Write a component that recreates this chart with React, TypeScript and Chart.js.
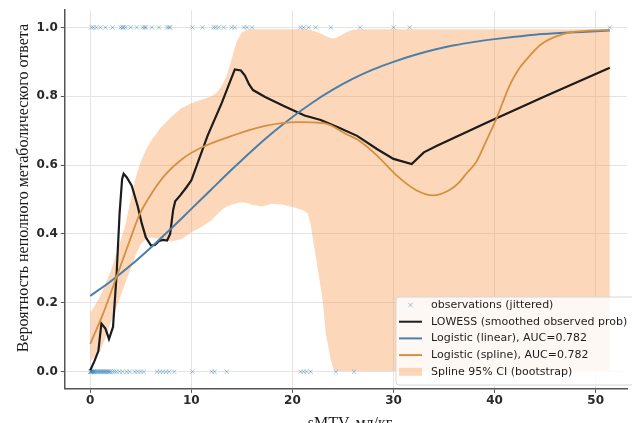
import React, { useEffect, useRef } from "react";
import { Chart, registerables } from "chart.js";

Chart.register(...registerables);

// ---- data ----
const OBS_POS_X = [0.1, 0.3, 0.6, 1.0, 1.5, 2.2, 3.0, 3.2, 3.3, 3.5, 4.0, 4.6, 5.2, 5.4, 5.5, 6.1, 6.8, 7.6, 7.8, 7.9, 10.1, 11.1, 12.2, 12.4, 12.7, 13.2, 14.0, 14.3, 15.2, 15.5, 16.0, 20.8, 21.1, 21.6, 22.3, 23.8, 26.7, 30.0, 31.6, 51.4];
const OBS_NEG_X = [0, 0.05, 0.1, 0.15, 0.2, 0.3, 0.35, 0.4, 0.5, 0.6, 0.7, 0.8, 0.9, 1.0, 1.1, 1.2, 1.3, 1.4, 1.5, 1.6, 1.7, 1.8, 1.9, 2.0, 2.2, 2.4, 2.6, 2.9, 3.2, 3.6, 3.9, 4.4, 4.7, 5.0, 5.3, 6.6, 6.9, 7.2, 7.5, 7.8, 8.3, 10.1, 12.0, 12.3, 13.5, 20.8, 21.1, 21.4, 21.8, 24.3, 26.1];

const LOWESS_X = [0, 0.4, 0.8, 1.1, 1.5, 1.85, 2.25, 2.6, 2.9, 3.15, 3.3, 3.6, 4.1, 4.7, 5.1, 5.5, 6.0, 6.4, 6.8, 7.2, 7.6, 7.9, 8.2, 8.4, 8.9, 9.5, 10.0, 10.7, 11.6, 13.0, 14.3, 14.9, 15.3, 15.7, 16.1, 17.3, 19.2, 21.2, 22.8, 24.5, 26.4, 28.4, 30.0, 31.8, 33.0, 34.3, 39.2, 45.0, 51.4];
const LOWESS_Y = [0.004, 0.03, 0.06, 0.14, 0.125, 0.095, 0.13, 0.28, 0.46, 0.56, 0.575, 0.565, 0.54, 0.48, 0.43, 0.39, 0.367, 0.368, 0.38, 0.383, 0.381, 0.4, 0.47, 0.495, 0.512, 0.535, 0.556, 0.612, 0.685, 0.78, 0.878, 0.875, 0.86, 0.835, 0.818, 0.798, 0.771, 0.744, 0.731, 0.71, 0.685, 0.646, 0.618, 0.603, 0.637, 0.656, 0.723, 0.8, 0.883];

const LIN_X = [0, 2, 4, 6, 8, 10, 12, 14, 16, 18, 20, 22, 24, 26, 28, 30, 32, 34, 36, 38, 40, 42, 44, 46, 48, 50, 51.4];
const LIN_Y = [0.22, 0.262, 0.309, 0.361, 0.416, 0.473, 0.53, 0.587, 0.642, 0.693, 0.74, 0.782, 0.819, 0.851, 0.878, 0.9, 0.919, 0.935, 0.948, 0.958, 0.966, 0.973, 0.979, 0.983, 0.986, 0.989, 0.991];

const SPL_X = [0, 1.25, 2.57, 3.87, 4.85, 6.16, 7.47, 9.1, 11.0, 14.0, 17.3, 20.5, 23.2, 25.4, 26.4, 28.4, 30.3, 32.25, 33.9, 35.5, 36.5, 37.2, 38.2, 39.2, 40.15, 41.45, 42.3, 43.1, 44.7, 46.7, 49.0, 51.4];
const SPL_Y = [0.081, 0.167, 0.273, 0.378, 0.455, 0.522, 0.574, 0.618, 0.651, 0.685, 0.714, 0.725, 0.721, 0.689, 0.675, 0.627, 0.57, 0.527, 0.512, 0.527, 0.55, 0.575, 0.61, 0.672, 0.733, 0.829, 0.875, 0.905, 0.953, 0.98, 0.99, 0.993];

const CI_X = [0, 1, 2, 3, 3.5, 4, 4.5, 5, 5.5, 6, 7, 8, 9, 10, 11, 12, 12.5, 13, 13.5, 14, 14.5, 15, 15.5, 16, 17, 18, 19, 20, 21, 21.5, 21.8, 22, 22.5, 23, 23.3, 23.5, 23.8, 24.1, 24.5, 25, 25.5, 26, 27, 30, 35, 40, 45, 50, 51.4];
const CI_HI = [0.17, 0.22, 0.29, 0.38, 0.43, 0.5, 0.565, 0.61, 0.645, 0.67, 0.71, 0.74, 0.765, 0.78, 0.79, 0.8, 0.81, 0.83, 0.86, 0.91, 0.96, 0.985, 0.993, 0.995, 0.995, 0.995, 0.995, 0.995, 0.995, 0.995, 0.993, 0.99, 0.985, 0.98, 0.975, 0.972, 0.969, 0.968, 0.972, 0.98, 0.988, 0.993, 0.995, 0.995, 0.995, 0.995, 0.995, 0.995, 0.995];
const CI_LO = [0.03, 0.06, 0.14, 0.22, 0.26, 0.3, 0.34, 0.37, 0.385, 0.39, 0.385, 0.378, 0.385, 0.405, 0.42, 0.44, 0.455, 0.47, 0.48, 0.485, 0.49, 0.492, 0.49, 0.485, 0.48, 0.488, 0.485, 0.478, 0.47, 0.46, 0.43, 0.39, 0.3, 0.206, 0.11, 0.08, 0.033, 0.004, 0.002, 0.002, 0.002, 0.002, 0.002, 0.002, 0.002, 0.002, 0.002, 0.002, 0.002];

const X_TICKS = [0, 10, 20, 30, 40, 50];
const Y_TICKS = [0, 0.2, 0.4, 0.6, 0.8, 1.0];
const X_TITLE = "sMTV, мл/кг";
const Y_TITLE = "Вероятность неполного метаболического ответа";
const LEGEND_LABELS = [
  "observations (jittered)",
  "LOWESS (smoothed observed prob)",
  "Logistic (linear), AUC=0.782",
  "Logistic (spline), AUC=0.782",
  "Spline 95% CI (bootstrap)",
];

// ---- styles ----
const C_OBS = "rgba(31,119,180,0.42)";
const C_BLACK = "#1c1c1c";
const C_BLUE = "#4a7fab";
const C_ORANGE = "#d5903f";
const C_BAND = "rgba(248,145,65,0.36)";

const zip = (xs: number[], ys: number[]) => xs.map((x, i) => ({ x, y: ys[i] }));

const overlay = {
  id: "overlay",
  afterDraw(chart: any) {
    const ctx = chart.ctx as CanvasRenderingContext2D;
    ctx.save();
    // axis titles
    ctx.fillStyle = "#1a1a1a";
    ctx.font = '16px "Liberation Serif"';
    ctx.textAlign = "center";
    ctx.textBaseline = "alphabetic";
    ctx.fillText(X_TITLE, 350, 428);
    ctx.save();
    ctx.translate(28, 188);
    ctx.rotate(-Math.PI / 2);
    ctx.fillText(Y_TITLE, 0, 0);
    ctx.restore();

    // legend
    const bx = 396, by = 297, bw = 241, bh = 88, r = 3;
    ctx.beginPath();
    ctx.moveTo(bx + r, by);
    ctx.lineTo(bx + bw - r, by);
    ctx.arcTo(bx + bw, by, bx + bw, by + r, r);
    ctx.lineTo(bx + bw, by + bh - r);
    ctx.arcTo(bx + bw, by + bh, bx + bw - r, by + bh, r);
    ctx.lineTo(bx + r, by + bh);
    ctx.arcTo(bx, by + bh, bx, by + bh - r, r);
    ctx.lineTo(bx, by + r);
    ctx.arcTo(bx, by, bx + r, by, r);
    ctx.closePath();
    ctx.fillStyle = "rgba(255,255,255,0.85)";
    ctx.fill();
    ctx.strokeStyle = "#d6d6d6";
    ctx.lineWidth = 1;
    ctx.stroke();

    const hx0 = 399, hx1 = 422, tx = 431;
    const rowY = (i: number) => 305 + i * 16.7;
    // row 0 marker
    const my = rowY(0), mx = (hx0 + hx1) / 2, ms = 2.2;
    ctx.strokeStyle = C_OBS;
    ctx.lineWidth = 1;
    ctx.beginPath();
    ctx.moveTo(mx - ms, my - ms); ctx.lineTo(mx + ms, my + ms);
    ctx.moveTo(mx - ms, my + ms); ctx.lineTo(mx + ms, my - ms);
    ctx.stroke();
    const lines = [C_BLACK, C_BLUE, C_ORANGE];
    lines.forEach((c, k) => {
      const y = rowY(k + 1);
      ctx.strokeStyle = c;
      ctx.lineWidth = 2;
      ctx.beginPath();
      ctx.moveTo(hx0, y); ctx.lineTo(hx1, y);
      ctx.stroke();
    });
    ctx.fillStyle = C_BAND;
    ctx.fillRect(hx0, rowY(4) - 4, hx1 - hx0, 8);

    ctx.fillStyle = "#1e1e1e";
    ctx.font = '11px "DejaVu Sans"';
    ctx.textAlign = "left";
    ctx.textBaseline = "middle";
    LEGEND_LABELS.forEach((t, i) => ctx.fillText(t, tx, rowY(i)));
    ctx.restore();
  },
};

export default function App() {
  const ref = useRef<HTMLCanvasElement | null>(null);
  useEffect(() => {
    if (!ref.current) return;
    const tickFont = { family: "DejaVu Sans", size: 12, weight: "bold" as const };
    const chart = new Chart(ref.current, {
      type: "line",
      data: {
        datasets: [
          { data: zip(SPL_X, SPL_Y), borderColor: C_ORANGE, borderWidth: 1.8, pointRadius: 0, cubicInterpolationMode: "monotone", fill: false },
          { data: zip(LIN_X, LIN_Y), borderColor: C_BLUE, borderWidth: 2, pointRadius: 0, cubicInterpolationMode: "monotone", fill: false },
          { data: zip(LOWESS_X, LOWESS_Y), borderColor: C_BLACK, borderWidth: 2.2, pointRadius: 0, tension: 0, fill: false },
          { data: OBS_POS_X.map((x) => ({ x, y: 1 })), showLine: false, pointStyle: "crossRot", pointRadius: 3, borderColor: C_OBS, backgroundColor: C_OBS, pointBorderWidth: 1, fill: false },
          { data: OBS_NEG_X.map((x) => ({ x, y: 0 })), showLine: false, pointStyle: "crossRot", pointRadius: 3, borderColor: C_OBS, backgroundColor: C_OBS, pointBorderWidth: 1, fill: false },
          { data: zip(CI_X, CI_HI), borderWidth: 0, borderColor: "rgba(0,0,0,0)", pointRadius: 0, tension: 0, fill: false },
          { data: zip(CI_X, CI_LO), borderWidth: 0, borderColor: "rgba(0,0,0,0)", backgroundColor: C_BAND, pointRadius: 0, tension: 0, fill: "-1" },
        ],
      },
      options: {
        animation: false,
        responsive: false,
        maintainAspectRatio: false,
        layout: { padding: { top: 6.3, right: 0, bottom: 0, left: 0 } },
        plugins: {
          legend: { display: false },
          tooltip: { enabled: false },
          filler: { drawTime: "beforeDatasetsDraw" },
        },
        scales: {
          x: {
            type: "linear",
            min: -2.57,
            max: 53.1,
            afterFit: (s: any) => { s.height = 34.1; },
            afterBuildTicks: (s: any) => { s.ticks = X_TICKS.map((v) => ({ value: v })); },
            ticks: { callback: (v: any) => String(v), font: tickFont, color: "#2a2a2a", padding: 1, maxRotation: 0, autoSkip: false },
            grid: { color: "#e4e4e4", lineWidth: 1, tickColor: "#555", tickLength: 4 },
            border: { color: "#555", width: 1.5 },
          },
          y: {
            type: "linear",
            min: -0.05,
            max: 1.05,
            afterFit: (s: any) => { s.width = 64.3; },
            afterBuildTicks: (s: any) => { s.ticks = Y_TICKS.map((v) => ({ value: v })); },
            ticks: { callback: (v: any) => Number(v).toFixed(1), font: tickFont, color: "#2a2a2a", padding: 3, autoSkip: false },
            grid: { color: "#e4e4e4", lineWidth: 1, tickColor: "#555", tickLength: 3.5 },
            border: { color: "#555", width: 1.5 },
          },
        },
      },
      plugins: [overlay],
    } as any);
    return () => chart.destroy();
  }, []);
  return (
    <div style={{ position: "fixed", left: 0, top: 0, width: 632, height: 423, background: "#fff" }}>
      <canvas ref={ref} width={632} height={423} style={{ display: "block" }} />
    </div>
  );
}
